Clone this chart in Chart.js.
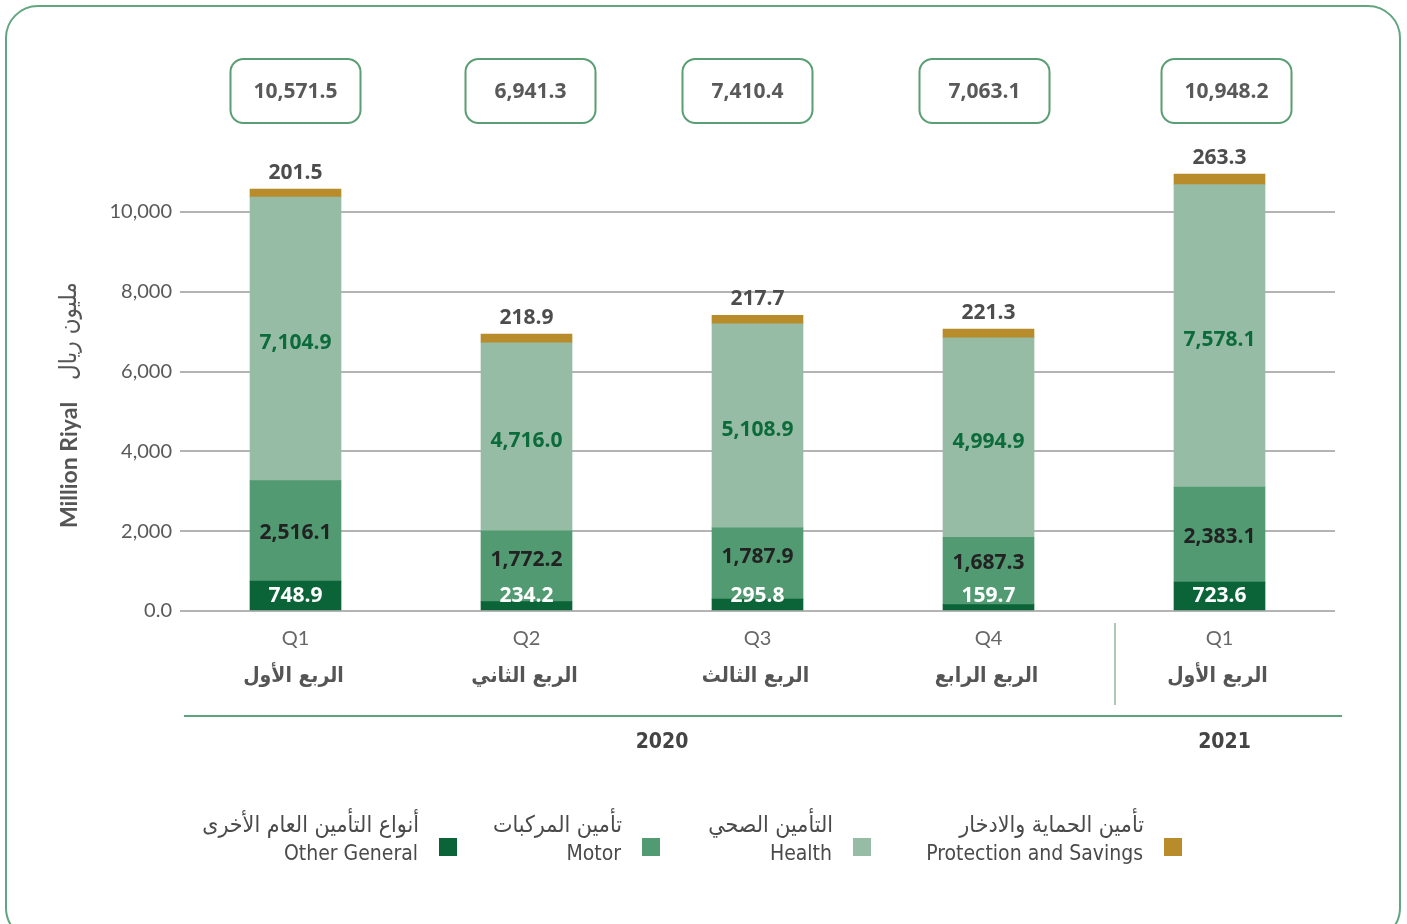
<!DOCTYPE html>
<html>
<head>
<meta charset="utf-8">
<script src="https://cdn.jsdelivr.net/npm/chart.js@4/dist/chart.umd.min.js"></script>
<style>
  html, body { margin: 0; padding: 0; background: #fff; }
  #wrap { width: 1407px; height: 924px; position: relative; }
</style>
</head>
<body>
<div id="wrap"><canvas id="premiumChart"></canvas></div>
<script>
// quarters (x axis)
const categories = ['Q1', 'Q2', 'Q3', 'Q4', 'Q1'];
const quarterArabic = ['الربع الأول', 'الربع الثاني', 'الربع الثالث', 'الربع الرابع', 'الربع الأول'];
const yearLabels = ['2020', '2021'];

// stacked series, million riyal
const otherGeneral = [748.9, 234.2, 295.8, 159.7, 723.6];
const motor = [2516.1, 1772.2, 1787.9, 1687.3, 2383.1];
const health = [7104.9, 4716.0, 5108.9, 4994.9, 7578.1];
const protection = [201.5, 218.9, 217.7, 221.3, 263.3];

// totals printed in the boxes above the bars
const totals = [10571.5, 6941.3, 7410.4, 7063.1, 10948.2];

const seriesEnglish = ['Other General', 'Motor', 'Health', 'Protection and Savings'];
const seriesArabic = ['أنواع التأمين العام الأخرى', 'تأمين المركبات', 'التأمين الصحي', 'تأمين الحماية والادخار'];
const seriesColors = ['#0a6437', '#529a72', '#96bca5', '#b88c2a'];

const yTicks = [0, 2000, 4000, 6000, 8000, 10000];

const fmt = v => v.toLocaleString('en-US', { minimumFractionDigits: 1, maximumFractionDigits: 1 });
const fmtTick = v => v === 0 ? '0.0' : v.toLocaleString('en-US');

const NUM_FONT = 'Lato, "Open Sans", sans-serif';
const BOLD_NUM = 'bold 21px "Open Sans", Lato, sans-serif';
const COND_FONT = '"DejaVu Sans Condensed", "DejaVu Sans", sans-serif';

// small nudges of the total boxes, as in the original layout
const boxShift = [0, 4, -10, -4, 7];

// frame, boxes, labels, legend
const decorPlugin = {
    id: 'decor',
    beforeDraw(chart) {
        const ctx = chart.ctx;
        ctx.save();
        ctx.fillStyle = '#fff';
        ctx.fillRect(0, 0, chart.width, chart.height);
        ctx.strokeStyle = '#62a680';
        ctx.lineWidth = 2;
        ctx.beginPath();
        ctx.roundRect(6, 6, 1394, 934, 32);
        ctx.stroke();
        ctx.restore();
    },
    afterDatasetsDraw(chart) {
        const ctx = chart.ctx;
        const x = chart.scales.x;
        const metas = [0, 1, 2, 3].map(i => chart.getDatasetMeta(i));
        ctx.save();
        ctx.textAlign = 'center';
        ctx.textBaseline = 'middle';

        categories.forEach((c, i) => {
            const og = metas[0].data[i], mo = metas[1].data[i], he = metas[2].data[i], pr = metas[3].data[i];
            ctx.font = BOLD_NUM;
            ctx.fillStyle = '#ffffff';
            ctx.fillText(fmt(otherGeneral[i]), og.x, og.base - 14);
            ctx.fillStyle = '#222222';
            ctx.fillText(fmt(motor[i]), mo.x, Math.min((mo.y + mo.base) / 2 + 2, og.y - 42));
            ctx.fillStyle = '#0b6b3a';
            ctx.fillText(fmt(health[i]), he.x, (he.y + he.base) / 2 + 4);
            ctx.fillStyle = '#4d4d4d';
            ctx.fillText(fmt(protection[i]), pr.x, pr.y - 16);

            // total boxes
            const cx = x.getPixelForValue(i) + boxShift[i];
            ctx.strokeStyle = '#5a9e74';
            ctx.lineWidth = 2;
            ctx.beginPath();
            ctx.roundRect(cx - 65, 59, 130, 64, 13);
            ctx.stroke();
            ctx.fillStyle = '#595959';
            ctx.fillText(fmt(totals[i]), cx, 92);

            // arabic quarter names
            ctx.font = 'bold 21px ' + COND_FONT;
            ctx.fillStyle = '#555';
            ctx.fillText(quarterArabic[i], x.getPixelForValue(i) - 2, 677);
        });
        ctx.restore();
    },
    afterDraw(chart) {
        const ctx = chart.ctx;
        const x = chart.scales.x;
        ctx.save();

        // year separator and baseline
        const sep = (x.getPixelForValue(3) + x.getPixelForValue(4)) / 2 + 11;
        ctx.strokeStyle = '#8fb8a0';
        ctx.lineWidth = 1.5;
        ctx.beginPath();
        ctx.moveTo(sep, 623);
        ctx.lineTo(sep, 705);
        ctx.stroke();
        ctx.strokeStyle = '#5fa37d';
        ctx.lineWidth = 2;
        ctx.beginPath();
        ctx.moveTo(184, 716);
        ctx.lineTo(1342, 716);
        ctx.stroke();

        ctx.textAlign = 'center';
        ctx.textBaseline = 'middle';
        ctx.font = 'bold 21px ' + COND_FONT;
        ctx.fillStyle = '#444';
        ctx.fillText(yearLabels[0], (x.getPixelForValue(0) + x.getPixelForValue(3)) / 2 + 20, 743);
        ctx.fillText(yearLabels[1], x.getPixelForValue(4) + 5, 743);

        // y axis title
        ctx.save();
        ctx.translate(70, 0);
        ctx.rotate(-Math.PI / 2);
        ctx.font = 'bold 23px ' + NUM_FONT;
        ctx.fillStyle = '#555';
        ctx.fillText('Million Riyal', -465, 0);
        ctx.font = '24px ' + COND_FONT;
        ctx.fillText('مليون ريال', -331, 0);
        ctx.restore();

        // legend
        const squares = [439, 642, 853, 1164];
        ctx.textAlign = 'right';
        squares.forEach((sx, i) => {
            ctx.fillStyle = seriesColors[i];
            ctx.fillRect(sx, 838, 18, 18);
            ctx.fillStyle = '#4a4a4a';
            ctx.font = '23px ' + COND_FONT;
            ctx.fillText(seriesArabic[i], sx - 20, 826);
            ctx.font = '21px ' + COND_FONT;
            ctx.fillText(seriesEnglish[i], sx - 21, 855);
        });
        ctx.restore();
    }
};

const ctx = document.getElementById('premiumChart').getContext('2d');
new Chart(ctx, {
    type: 'bar',
    data: {
        labels: categories,
        datasets: [
            { label: seriesEnglish[0], data: otherGeneral, backgroundColor: seriesColors[0] },
            { label: seriesEnglish[1], data: motor, backgroundColor: seriesColors[1] },
            { label: seriesEnglish[2], data: health, backgroundColor: seriesColors[2] },
            { label: seriesEnglish[3], data: protection, backgroundColor: seriesColors[3] }
        ]
    },
    options: {
        responsive: true,
        maintainAspectRatio: false,
        animation: false,
        layout: { padding: { left: 0, right: 72, top: 172, bottom: 0 } },
        plugins: { legend: { display: false }, tooltip: { enabled: false } },
        datasets: { bar: { barThickness: 91, borderWidth: 0 } },
        scales: {
            x: {
                stacked: true,
                grid: { display: false, drawTicks: false },
                border: { display: false },
                ticks: { color: '#666', font: { family: NUM_FONT, size: 20 }, padding: 16 },
                afterFit(scale) { scale.height = 313; }
            },
            y: {
                stacked: true,
                min: 0,
                max: 11000,
                afterBuildTicks(scale) { scale.ticks = yTicks.map(v => ({ value: v })); },
                grid: { color: '#b4b4b4', lineWidth: 2, drawTicks: false },
                border: { display: false },
                ticks: { color: '#595959', font: { family: NUM_FONT, size: 20 }, padding: 8, callback: v => fmtTick(v) },
                afterFit(scale) { scale.width = 180; }
            }
        }
    },
    plugins: [decorPlugin]
});
</script>
</body>
</html>
